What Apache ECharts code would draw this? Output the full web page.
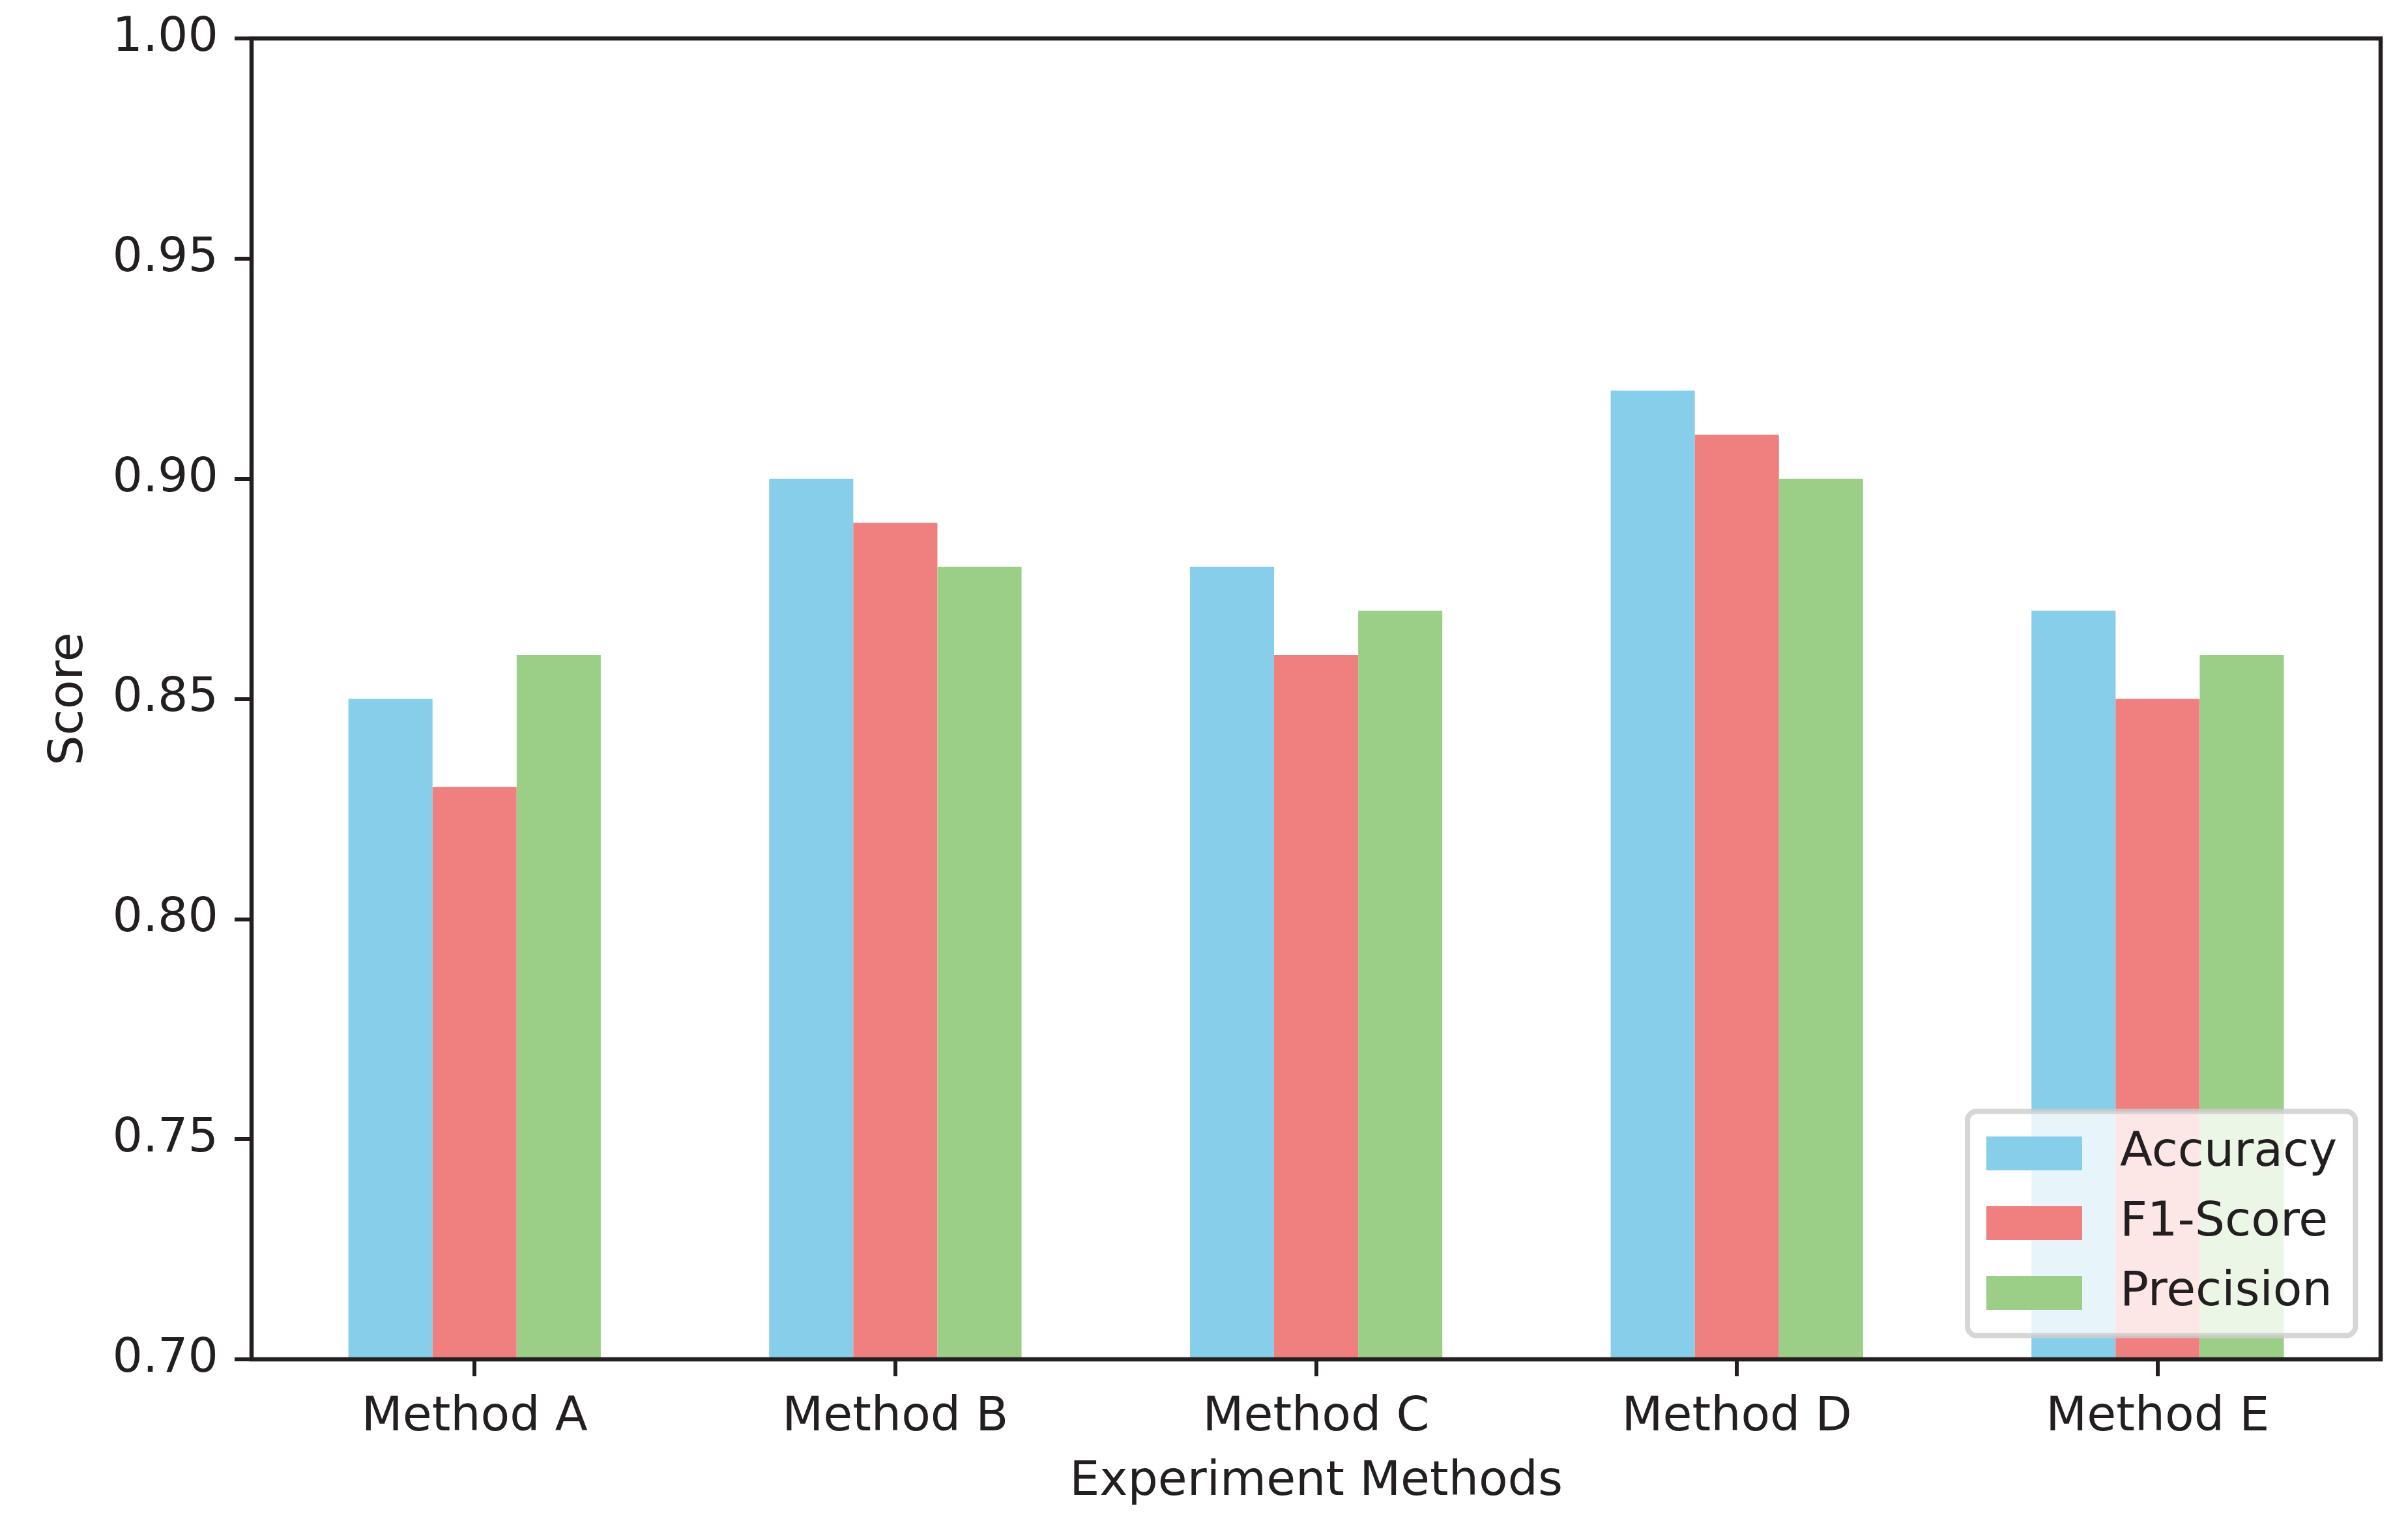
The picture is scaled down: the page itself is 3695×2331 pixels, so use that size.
<!DOCTYPE html>
<html>
<head>
<meta charset="utf-8">
<script src="https://cdn.jsdelivr.net/npm/echarts@6/dist/echarts.min.js"></script>
<style>
  html, body { margin: 0; padding: 0; background: #ffffff; }
  #chart { width: 3695px; height: 2331px; }
</style>
</head>
<body>
<div id="chart"></div>
<script>
// ---- data ----
const categories = ['Method A', 'Method B', 'Method C', 'Method D', 'Method E'];
const accuracy   = [0.85, 0.90, 0.88, 0.92, 0.87];
const f1Score    = [0.83, 0.89, 0.86, 0.91, 0.85];
const precision  = [0.86, 0.88, 0.87, 0.90, 0.86];
const seriesNames = ['Accuracy', 'F1-Score', 'Precision'];
const yMin = 0.70, yMax = 1.00, yStep = 0.05;
const xAxisTitle = 'Experiment Methods';
const yAxisTitle = 'Score';

// ---- style ----
const ink = '#231f20';
const font = 'DejaVu Sans';
const fs = 73;
const colors = ['#87CEEB', '#F08080', '#9BCF88'];

const chart = echarts.init(document.getElementById('chart'), null, { renderer: 'canvas' });

const frame = { left: 386, top: 59, width: 3267, height: 2027 };
// inner band grid (matplotlib-style 5% margins around bars)
const inner = { left: 405.4, top: 59, width: 3228.3, height: 2027 };

const values = [accuracy, f1Score, precision];

chart.setOption({
  animation: false,
  backgroundColor: '#ffffff',
  textStyle: { fontFamily: font },
  grid: [
    Object.assign({ show: true, z: 10, borderColor: ink, borderWidth: 6.5, backgroundColor: 'transparent', containLabel: false }, frame),
    Object.assign({ show: false, containLabel: false }, inner)
  ],
  legend: {
    data: seriesNames,
    orient: 'vertical',
    left: 3019,
    top: 1705.5,
    padding: [28, 28, 29, 29],
    itemWidth: 147,
    itemHeight: 52,
    itemGap: 34,
    icon: 'rect',
    selectedMode: false,
    backgroundColor: 'rgba(255,255,255,0.8)',
    borderColor: 'rgba(204,204,204,0.8)',
    borderWidth: 8,
    borderRadius: 14,
    textStyle: { fontFamily: font, fontSize: fs, color: ink, padding: [0, 0, 0, 53] }
  },
  xAxis: [
    { gridIndex: 0, type: 'value', min: 0, max: 1, show: false },
    {
      gridIndex: 1, type: 'category', data: categories,
      axisLine: { show: false },
      axisTick: { show: true, alignWithLabel: true, length: 26, lineStyle: { color: ink, width: 6 } },
      axisLabel: { fontFamily: font, fontSize: fs, color: ink, margin: 54, interval: 0, lineHeight: 73 },
      splitLine: { show: false },
      name: xAxisTitle, nameLocation: 'middle', nameGap: 153,
      nameTextStyle: { fontFamily: font, fontSize: fs, color: ink, lineHeight: 73 }
    }
  ],
  yAxis: [
    {
      gridIndex: 0, type: 'value', min: yMin, max: yMax, interval: yStep,
      axisLine: { show: false },
      axisTick: { show: true, length: 26, lineStyle: { color: ink, width: 6 } },
      axisLabel: { fontFamily: font, fontSize: fs, color: ink, margin: 51, padding: [10, 0, 0, 0],
                   formatter: v => v.toFixed(2) },
      splitLine: { show: false },
      name: yAxisTitle, nameLocation: 'middle', nameGap: 242, nameRotate: 90,
      nameTextStyle: { fontFamily: font, fontSize: fs, color: ink, lineHeight: 73 }
    },
    { gridIndex: 1, type: 'value', min: yMin, max: yMax, show: false }
  ],
  series: seriesNames.map((name, i) => ({
    name: name,
    type: 'bar',
    xAxisIndex: 1,
    yAxisIndex: 1,
    data: values[i],
    barWidth: 129.1,
    barGap: '0%',
    itemStyle: { color: colors[i] },
    emphasis: { disabled: true }
  }))
});
</script>
</body>
</html>
